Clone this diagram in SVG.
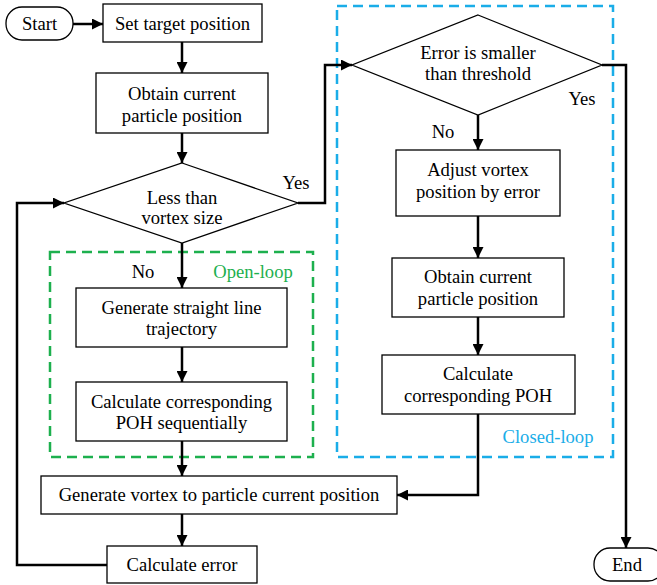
<svg xmlns="http://www.w3.org/2000/svg" width="657" height="585" viewBox="0 0 657 585">
<style>
.box{fill:#fff;stroke:#000;stroke-width:1.3}
.t{font-family:'Liberation Serif','Times New Roman',serif;font-size:18.6px;fill:#000;text-anchor:middle}
.c{fill:none;stroke:#000;stroke-width:2.5}
.g{fill:none;stroke:#1DB04E;stroke-width:2.5;stroke-dasharray:10 6}
.b{fill:none;stroke:#1AADE8;stroke-width:2.5;stroke-dasharray:10 6}
</style>
<defs>
<marker id="ah" markerUnits="userSpaceOnUse" markerWidth="11" markerHeight="11" refX="11" refY="5.5" orient="auto">
<path d="M0,0 L11,5.5 L0,11 z" fill="#000"/>
</marker>
</defs>
<rect width="657" height="585" fill="#fff"/>
<g id="groups">
<rect class="g" x="50" y="252" width="263" height="205"/>
<text class="t" x="253" y="278" style="fill:#1DB04E">Open-loop</text>
<rect class="b" x="337" y="6" width="276" height="451"/>
<text class="t" x="548" y="443" style="fill:#1AADE8">Closed-loop</text>
</g>
<g id="connectors">
<path class="c" d="M73,24 H103" marker-end="url(#ah)"/>
<path class="c" d="M182,42 V73" marker-end="url(#ah)"/>
<path class="c" d="M182,133 V163" marker-end="url(#ah)"/>
<path class="c" d="M182,243 V288" marker-end="url(#ah)"/>
<path class="c" d="M182,347 V382" marker-end="url(#ah)"/>
<path class="c" d="M182,441 V476" marker-end="url(#ah)"/>
<path class="c" d="M182,514 V546" marker-end="url(#ah)"/>
<path class="c" d="M107,565 H17 V203 H64" marker-end="url(#ah)"/>
<path class="c" d="M298,203 H325 V65 H352" marker-end="url(#ah)"/>
<path class="c" d="M478,115 V150" marker-end="url(#ah)"/>
<path class="c" d="M478,216 V258" marker-end="url(#ah)"/>
<path class="c" d="M478,317 V355" marker-end="url(#ah)"/>
<path class="c" d="M478,414 V495 H397" marker-end="url(#ah)"/>
<path class="c" d="M602,65 H626 V548" marker-end="url(#ah)"/>
<text class="t" x="296" y="189">Yes</text>
<text class="t" x="143" y="278">No</text>
<text class="t" x="582" y="105">Yes</text>
<text class="t" x="443" y="138">No</text>
</g>
<g id="start">
<rect class="box" x="6" y="7" width="67" height="33" rx="16" ry="16"/>
<text class="t" x="39.5" y="30">Start</text>
</g>
<g id="set-target">
<rect class="box" x="103" y="4" width="159" height="38"/>
<text class="t" x="182.5" y="30">Set target position</text>
</g>
<g id="obtain1">
<rect class="box" x="96" y="73" width="172" height="60"/>
<text class="t" x="182" y="100">Obtain current</text>
<text class="t" x="182" y="122">particle position</text>
</g>
<g id="less-than">
<path class="box" d="M182,163 L298,203 L182,243 L64,203 Z"/>
<text class="t" x="182" y="204">Less than</text>
<text class="t" x="182" y="224">vortex size</text>
</g>
<g id="straight-line">
<rect class="box" x="76" y="288" width="211" height="59"/>
<text class="t" x="181.5" y="314">Generate straight line</text>
<text class="t" x="181.5" y="335">trajectory</text>
</g>
<g id="calc-seq">
<rect class="box" x="76" y="382" width="211" height="59"/>
<text class="t" x="181.5" y="408">Calculate corresponding</text>
<text class="t" x="181.5" y="429">POH sequentially</text>
</g>
<g id="gen-vortex">
<rect class="box" x="41" y="476" width="356" height="38"/>
<text class="t" x="219" y="501">Generate vortex to particle current position</text>
</g>
<g id="calc-error">
<rect class="box" x="107" y="546" width="150" height="37"/>
<text class="t" x="182" y="571">Calculate error</text>
</g>
<g id="error-smaller">
<path class="box" d="M478,15 L602,65 L478,115 L352,65 Z"/>
<text class="t" x="478" y="59">Error is smaller</text>
<text class="t" x="478" y="80">than threshold</text>
</g>
<g id="adjust">
<rect class="box" x="396" y="150" width="164" height="66"/>
<text class="t" x="478" y="176">Adjust vortex</text>
<text class="t" x="478" y="198">position by error</text>
</g>
<g id="obtain2">
<rect class="box" x="392" y="258" width="172" height="59"/>
<text class="t" x="478" y="283">Obtain current</text>
<text class="t" x="478" y="305">particle position</text>
</g>
<g id="calc-poh">
<rect class="box" x="382" y="355" width="193" height="59"/>
<text class="t" x="478" y="380">Calculate</text>
<text class="t" x="478" y="402">corresponding POH</text>
</g>
<g id="end">
<rect class="box" x="594" y="548" width="70" height="33" rx="16" ry="16"/>
<text class="t" x="627" y="571">End</text>
</g>
</svg>
